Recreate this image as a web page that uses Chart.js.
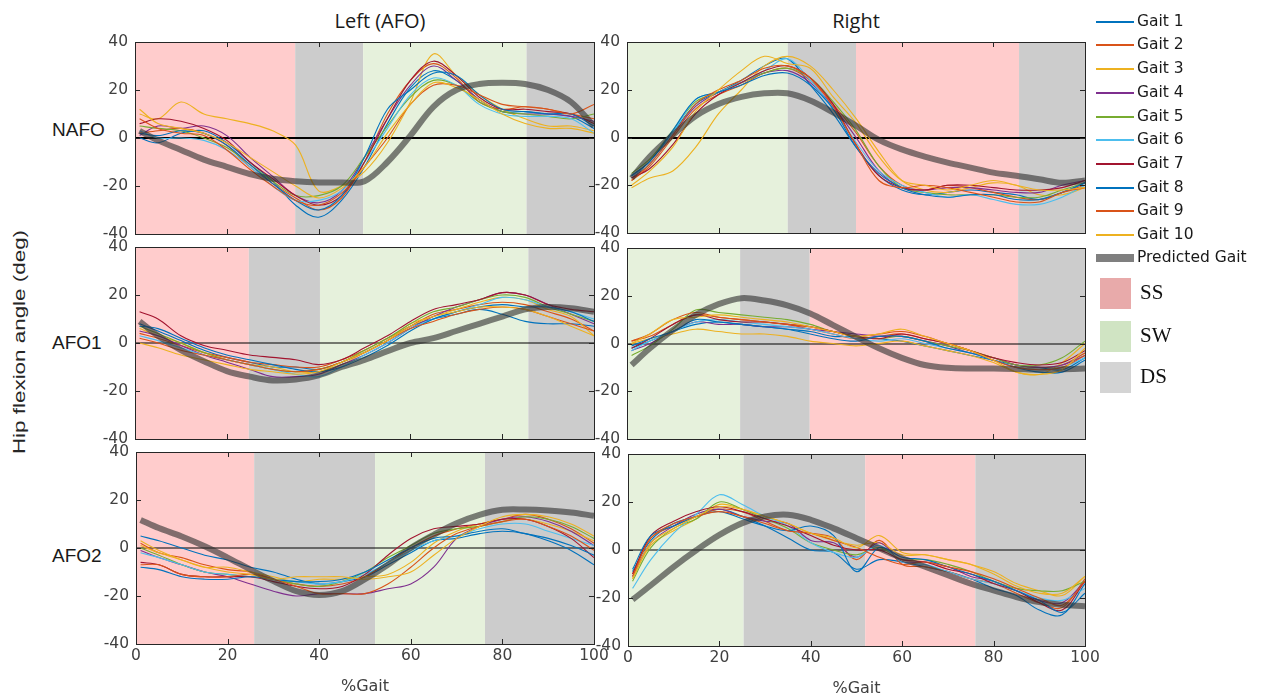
<!DOCTYPE html>
<html>
<head>
<meta charset="utf-8">
<script src="https://cdn.jsdelivr.net/npm/chart.js@4.4.1/dist/chart.umd.min.js"></script>
<style>
  body { margin: 0; background: #fff; }
  #fig { position: relative; width: 1263px; height: 698px; overflow: hidden; }
  #fig canvas { position: absolute; }
  .lbl { position: absolute; white-space: nowrap; color: #1a1a1a; transform: translate(-50%, -50%); }
  .col { font-family: 'Open Sans', sans-serif; font-size: 20px; top: 20px; }
  .row { font-family: 'Liberation Sans', Arial, sans-serif; font-size: 19px; transform: translate(0, -50%); left: 52px; }
  #ytitle { font-family: 'Liberation Sans', Arial, sans-serif; font-size: 16px; left: 20px; top: 342px;
            transform: translate(-50%, -50%) rotate(-90deg) scaleX(1.4); color: #262626; }
  .leg { position: absolute; font-family: 'DejaVu Sans', sans-serif; font-size: 15.5px; color: #1a1a1a; white-space: nowrap; }
  .sw { position: absolute; }
  .ph { position: absolute; font-family: 'Liberation Serif', 'Times New Roman', serif; font-size: 21px; color: #111; }
</style>
</head>
<body>
<div id="fig">
  <div class="lbl col" style="left:380px">Left (AFO)</div>
  <div class="lbl col" style="left:856px">Right</div>
  <div class="lbl row" style="top:130px">NAFO</div>
  <div class="lbl row" style="top:343px">AFO1</div>
  <div class="lbl row" style="top:556px">AFO2</div>
  <div class="lbl" id="ytitle">Hip flexion angle (deg)</div>
</div>
<script>
// % of gait cycle where each trial was sampled
const GAIT_PCT = [1, 5, 10, 15, 20, 25, 30, 35, 40, 45, 50, 55, 60, 65, 70, 75, 80, 85, 90, 95, 100];
const GAIT_NAMES = ['Gait 1', 'Gait 2', 'Gait 3', 'Gait 4', 'Gait 5', 'Gait 6', 'Gait 7', 'Gait 8', 'Gait 9', 'Gait 10'];
const GAIT_COLORS = ['#0072bd', '#d95319', '#edb120', '#7e2f8e', '#77ac30', '#4dbeee', '#a2142f', '#0072bd', '#d95319', '#edb120'];
const Y_TICKS = [-40, -20, 0, 20, 40];
const X_TICKS = [0, 20, 40, 60, 80, 100];

// gait phases: SS single stance, SW swing, DS double support  [phase, from %, to %]
const phasesLeftNafo  = [['SS', 0, 34.9], ['DS', 34.9, 49.7], ['SW', 49.7, 85.3], ['DS', 85.3, 100]];
const phasesRightNafo = [['SW', 0, 35.1], ['DS', 35.1, 50.0], ['SS', 50.0, 85.6], ['DS', 85.6, 100]];
const phasesLeftAfo1  = [['SS', 0, 24.8], ['DS', 24.8, 40.3], ['SW', 40.3, 85.7], ['DS', 85.7, 100]];
const phasesRightAfo1 = [['SW', 0, 24.7], ['DS', 24.7, 39.9], ['SS', 39.9, 85.4], ['DS', 85.4, 100]];
const phasesLeftAfo2  = [['SS', 0, 25.8], ['DS', 25.8, 52.2], ['SW', 52.2, 76.2], ['DS', 76.2, 100]];
const phasesRightAfo2 = [['SW', 0, 25.3], ['DS', 25.3, 51.9], ['SS', 51.9, 76.0], ['DS', 76.0, 100]];

// predicted hip flexion (deg)
const predLeftNafo  = [3, -1, -5, -9, -12, -15, -17, -18, -18.5, -18.5, -18, -10, 1, 13, 20, 22.5, 23, 22.5, 20, 15, 5];
const predRightNafo = [-17, -8, 1, 9, 14, 17, 18.5, 18.5, 15.5, 10.5, 5, -1, -5, -8, -10.5, -12.6, -14.7, -16, -17.5, -19, -18];
const predLeftAfo1  = [9, 3, -3, -7.6, -11.7, -14, -15.6, -15.2, -13.5, -10, -7, -3.4, 0, 2, 5, 8, 11, 14, 15, 14.5, 13];
const predRightAfo1 = [-9, -2, 5.6, 12, 16.5, 19, 18, 16, 12.6, 7.7, 2.8, -2, -6, -9, -10.2, -10.5, -10.5, -10.7, -11, -10.8, -10.5];
const predLeftAfo2  = [11.7, 8.3, 4.8, 0.7, -4, -9, -13.8, -18, -19.6, -18, -13, -7, 0, 5.5, 10.3, 13.8, 15.9, 16, 15.6, 14.8, 13.4];
const predRightAfo2 = [-20.7, -14.7, -7, 0, 6.3, 11.2, 14, 14.7, 12.6, 9, 4.9, 0.7, -3.5, -7, -10.5, -14, -16.8, -19.6, -21.7, -22.8, -23.4];

// measured trials, Gait 1 .. Gait 10
const leftNafo = [
  [0, -2, 2, 3, -2, -10, -18, -28, -33, -26, -12, 6, 21, 28, 24, 16, 11, 11, 10, 9, 4],
  [2, 3, 4, 2, -3, -12, -19, -25, -30, -25, -10, 10, 24, 31, 25, 15, 12, 13, 12, 10, 8],
  [10, 8, 15, 10, 8, 6, 3, -3, -22, -20, -14, -2, 15, 35, 26, 18, 12, 8, 5, 5, 3],
  [1, 5, 4, 5, 1, -8, -16, -24, -27, -22, -8, 8, 22, 30, 24, 16, 11, 10, 10, 9, 7],
  [5, 4, 3, 0, -4, -11, -18, -24, -24, -20, -8, 5, 17, 24, 22, 15, 11, 10, 9, 8, 10],
  [3, 0, 0, -1, -5, -12, -20, -26, -26, -22, -10, 4, 18, 25, 22, 14, 10, 9, 9, 8, 2],
  [6, 8, 7, 4, -1, -10, -17, -24, -28, -24, -10, 8, 24, 32, 26, 17, 12, 12, 11, 10, 6],
  [2, 1, 3, 2, -3, -11, -19, -26, -30, -24, -8, 12, 20, 27, 26, 18, 12, 11, 10, 10, 5],
  [8, 4, 2, 1, -5, -13, -20, -26, -28, -23, -12, 0, 14, 22, 22, 18, 14, 13, 12, 10, 14],
  [12, 6, 4, 2, -2, -8, -14, -20, -25, -21, -12, 2, 14, 23, 21, 16, 10, 6, 4, 4, 2]
];
const rightNafo = [
  [-16, -10, 2, 14, 19, 24, 30, 33, 22, 10, -4, -16, -22, -24, -23, -22, -23, -24, -26, -23, -19],
  [-18, -12, 0, 12, 18, 22, 27, 29, 24, 14, 2, -12, -20, -22, -20, -21, -23, -25, -26, -23, -20],
  [-21, -17, -14, -4, 10, 20, 30, 34, 30, 20, 8, -6, -18, -22, -23, -21, -19, -20, -24, -24, -21],
  [-17, -11, 1, 13, 19, 23, 27, 28, 23, 13, 0, -14, -21, -22, -21, -21, -22, -23, -23, -20, -18],
  [-15, -9, 3, 15, 19, 23, 27, 29, 25, 15, 3, -12, -21, -23, -24, -24, -24, -25, -25, -22, -19],
  [-16, -11, 2, 16, 19, 23, 28, 33, 24, 12, -2, -14, -20, -23, -25, -24, -26, -28, -28, -25, -20],
  [-17, -13, -3, 10, 18, 23, 28, 30, 25, 14, -3, -16, -21, -22, -20, -20, -21, -22, -22, -21, -18],
  [-16, -10, 3, 16, 19, 22, 26, 27, 22, 12, -4, -15, -21, -24, -25, -24, -24, -26, -26, -23, -19],
  [-18, -11, 1, 14, 20, 24, 29, 30, 25, 13, -3, -18, -21, -20, -21, -23, -25, -27, -27, -23, -21],
  [-20, -14, -4, 11, 20, 28, 34, 31, 29, 17, 6, -8, -18, -20, -22, -20, -18, -20, -22, -22, -21]
];
const leftAfo1 = [
  [8, 5, 1, -3, -6, -8, -10, -10, -11, -8, -4, 1, 7, 10, 12, 14, 12, 9, 8, 8, 7],
  [4, 2, -1, -4, -6, -8, -9, -10, -10, -7, -3, 2, 7, 12, 14, 16, 17, 16, 13, 10, 5],
  [6, 3, 0, -4, -7, -9, -10, -12, -12, -9, -4, 1, 8, 11, 14, 17, 19, 18, 14, 11, 3],
  [5, 3, -1, -5, -8, -11, -14, -14, -13, -9, -5, 0, 6, 11, 15, 18, 21, 20, 16, 12, 8],
  [7, 4, 0, -4, -7, -9, -11, -12, -11, -8, -3, 2, 8, 13, 15, 18, 20, 19, 15, 12, 9],
  [3, 1, -2, -5, -7, -9, -11, -13, -14, -10, -5, 0, 6, 10, 13, 16, 19, 18, 15, 13, 10],
  [13, 10, 3, -1, -3, -5, -6, -7, -9, -7, -2, 3, 9, 14, 16, 18, 21, 20, 16, 14, 13],
  [7, 6, 2, -2, -5, -7, -9, -11, -12, -10, -6, -1, 5, 10, 13, 15, 16, 15, 15, 13, 9],
  [2, 0, -3, -5, -7, -9, -11, -12, -11, -8, -4, 1, 6, 9, 12, 14, 15, 14, 11, 8, 5],
  [0, -2, -5, -7, -9, -11, -12, -13, -12, -8, -4, 1, 7, 11, 13, 15, 15, 14, 11, 7, 3]
];
const rightAfo1 = [
  [-2, 1, 5, 8, 9, 8, 7, 6, 5, 3, 3, 2, 1, -1, -3, -5, -7, -9, -10, -11, -6],
  [1, 3, 8, 12, 11, 10, 9, 8, 6, 4, 2, 3, 4, 2, 0, -3, -6, -9, -10, -9, -4],
  [0, 2, 4, 6, 5, 4, 4, 3, 1, 0, -1, 0, 1, -1, -3, -5, -8, -12, -13, -8, 0],
  [-3, 0, 5, 9, 8, 8, 7, 7, 6, 5, 4, 3, 3, 1, -1, -4, -6, -9, -10, -9, -5],
  [-5, -1, 6, 14, 13, 12, 11, 10, 8, 5, 3, 2, 3, 1, -1, -3, -6, -9, -9, -6, 1],
  [-3, 1, 5, 9, 10, 9, 8, 7, 6, 4, 2, 1, 2, 0, -2, -4, -7, -10, -11, -10, -6],
  [-2, 2, 8, 12, 10, 9, 9, 8, 7, 5, 3, 2, 4, 2, 0, -3, -6, -8, -9, -8, -3],
  [-1, 2, 5, 10, 9, 8, 7, 6, 4, 2, 1, 3, 3, 1, -2, -4, -7, -10, -12, -12, -7],
  [1, 4, 10, 13, 11, 10, 9, 8, 7, 5, 3, 4, 5, 3, 0, -3, -7, -10, -11, -10, -5],
  [0, 4, 10, 11, 12, 11, 10, 9, 7, 5, 3, 4, 6, 3, 0, -3, -7, -12, -13, -11, -2]
];
const leftAfo2 = [
  [5, 3, 0, -3, -5, -8, -10, -13, -15, -14, -12, -7, -2, 3, 4, 6, 7, 6, 3, -1, -7],
  [2, -2, -4, -7, -9, -10, -13, -15, -16, -15, -12, -6, 0, 5, 8, 10, 12, 14, 12, 8, 2],
  [1, -2, -5, -8, -8, -10, -12, -14, -13, -13, -12, -11, -6, 2, 7, 10, 12, 12, 10, 7, 3],
  [-1, -4, -7, -10, -12, -15, -18, -20, -19, -19, -19, -17, -15, -8, 4, 9, 12, 13, 11, 7, 1],
  [0, -3, -7, -10, -11, -12, -13, -15, -16, -14, -10, -4, 1, 6, 8, 9, 11, 13, 12, 9, 4],
  [-2, -4, -7, -10, -11, -12, -13, -14, -15, -14, -11, -6, -1, 3, 5, 8, 10, 10, 7, 4, 1],
  [-6, -7, -11, -12, -12, -12, -14, -16, -17, -16, -11, -3, 4, 8, 9, 10, 12, 12, 9, 4, -4],
  [-8, -9, -12, -13, -13, -12, -13, -14, -14, -13, -10, -5, 0, 4, 5, 7, 8, 6, 4, 1, -3],
  [-7, -7, -11, -12, -12, -11, -13, -16, -19, -19, -19, -15, -8, 0, 6, 9, 11, 12, 9, 5, -1],
  [3, -1, -5, -8, -10, -11, -13, -12, -12, -12, -13, -12, -10, -3, 4, 9, 13, 14, 13, 10, 5]
];
const rightAfo2 = [
  [-9, 4, 11, 14, 17, 14, 10, 5, 0, -1, -8, -4, -5, -7, -9, -12, -16, -19, -25, -27, -14],
  [-10, 5, 10, 14, 17, 16, 12, 8, 7, 5, -4, 4, -6, -7, -9, -12, -14, -18, -22, -24, -12],
  [-12, 2, 8, 13, 19, 17, 14, 11, 7, 4, 2, 3, -2, -2, -4, -6, -9, -14, -17, -19, -11],
  [-11, 3, 10, 15, 17, 14, 12, 11, 4, 3, -3, 3, -5, -5, -7, -11, -13, -17, -21, -22, -13],
  [-13, 1, 9, 13, 20, 17, 13, 9, 3, 0, -2, 1, -4, -4, -6, -9, -13, -16, -17, -17, -13],
  [-16, -4, 7, 15, 23, 19, 14, 10, 3, -1, -3, 2, -5, -6, -9, -12, -14, -17, -20, -21, -16],
  [-10, 6, 12, 16, 18, 16, 13, 10, 6, 2, 0, 0, -4, -5, -8, -10, -14, -17, -22, -25, -13],
  [-8, 6, 10, 14, 16, 13, 10, 8, 10, 6, -9, 1, -3, -4, -7, -10, -13, -17, -21, -26, -18],
  [-11, 5, 11, 14, 16, 14, 11, 8, 7, 4, 1, -3, -6, -5, -7, -9, -12, -16, -20, -23, -13],
  [-12, 3, 9, 14, 18, 17, 14, 11, 7, 5, 1, 6, -1, -2, -4, -6, -10, -15, -18, -18, -11]
];

const PHASE_FILL = { SS: '#ffcccc', SW: '#e6f1dc', DS: '#cccccc' };
const PHASE_KEY  = { SS: '#e8aaaa', SW: '#d0e4c3', DS: '#d4d4d4' };
const AXIS_INK = '#262626';

const fig = document.getElementById('fig');

// shaded gait phases and the zero line under the traces, box and inward ticks on top
const phasePlugin = {
  id: 'phases',
  beforeDatasetsDraw(chart, args, opts) {
    const { ctx, chartArea: a, scales: { x, y } } = chart;
    ctx.save();
    for (const [kind, from, to] of opts.bands) {
      const x0 = x.getPixelForValue(from), x1 = x.getPixelForValue(to);
      ctx.fillStyle = PHASE_FILL[kind];
      ctx.fillRect(x0, a.top, x1 - x0, a.height);
    }
    const y0 = Math.round(y.getPixelForValue(0));
    ctx.strokeStyle = '#000';
    ctx.lineWidth = opts.zero;
    ctx.beginPath();
    ctx.moveTo(a.left, y0);
    ctx.lineTo(a.right, y0);
    ctx.stroke();
    ctx.restore();
  },
  afterDatasetsDraw(chart) {
    const { ctx, chartArea: a, scales: { x, y } } = chart;
    ctx.save();
    ctx.strokeStyle = AXIS_INK;
    ctx.lineWidth = 1;
    ctx.beginPath();
    for (const v of X_TICKS) {
      const px = Math.round(x.getPixelForValue(v)) + 0.5;
      ctx.moveTo(px, a.top); ctx.lineTo(px, a.top + 5);
      ctx.moveTo(px, a.bottom); ctx.lineTo(px, a.bottom - 5);
    }
    for (const v of Y_TICKS) {
      const py = Math.round(y.getPixelForValue(v)) + 0.5;
      ctx.moveTo(a.left, py); ctx.lineTo(a.left + 5, py);
      ctx.moveTo(a.right, py); ctx.lineTo(a.right - 5, py);
    }
    ctx.stroke();
    ctx.strokeRect(Math.round(a.left) + 0.5, Math.round(a.top) + 0.5,
                   Math.round(a.width), Math.round(a.height));
    ctx.restore();
  }
};

const tickFont = { family: 'DejaVu Sans', size: 15.5 };

function drawPanel(rect, gaits, pred, bands, opt) {
  const [L, T, W, H] = rect;
  const padL = 56, padT = 12, padR = 24;
  const padB = opt.bottom ? 58 : 12;
  const cv = document.createElement('canvas');
  cv.width = W + padL + padR;
  cv.height = H + padT + padB;
  cv.style.left = (L - padL) + 'px';
  cv.style.top = (T - padT) + 'px';
  fig.appendChild(cv);

  const datasets = gaits.map((vals, i) => ({
    label: GAIT_NAMES[i],
    data: GAIT_PCT.map((x, k) => ({ x, y: vals[k] })),
    borderColor: GAIT_COLORS[i],
    borderWidth: 1.1,
    order: 20 - i
  }));
  datasets.push({
    label: 'Predicted Gait',
    data: GAIT_PCT.map((x, k) => ({ x, y: pred[k] })),
    borderColor: 'rgba(45, 45, 45, 0.6)',
    borderWidth: 6,
    order: 0
  });

  new Chart(cv, {
    type: 'line',
    data: { datasets },
    options: {
      responsive: false,
      animation: false,
      devicePixelRatio: 1,
      layout: { padding: { left: 0, top: padT, right: padR, bottom: opt.bottom ? 0 : padB } },
      elements: { point: { radius: 0 }, line: { tension: 0.35, fill: false } },
      plugins: {
        legend: { display: false },
        tooltip: { enabled: false },
        phases: { bands, zero: opt.zero }
      },
      scales: {
        x: {
          type: 'linear', min: 0, max: 100,
          grid: { display: false, drawTicks: false },
          border: { display: false },
          ticks: { display: opt.bottom, stepSize: 20, padding: 3, maxRotation: 0, color: '#404040', font: tickFont },
          title: { display: opt.bottom, text: '%Gait', color: '#404040',
                   font: { family: 'DejaVu Sans', size: 16 }, padding: { top: 0, bottom: 6 } },
          afterFit(s) { s.height = opt.bottom ? padB : 0; s.paddingLeft = 0; s.paddingRight = 0; }
        },
        y: {
          type: 'linear', min: -40, max: 40,
          grid: { display: false, drawTicks: false },
          border: { display: false },
          ticks: { stepSize: 20, padding: 7, color: '#404040', font: tickFont },
          afterFit(s) { s.width = padL; s.paddingTop = 0; s.paddingBottom = 0; }
        }
      }
    },
    plugins: [phasePlugin]
  });
}

drawPanel([135, 42, 459, 192], leftNafo, predLeftNafo, phasesLeftNafo, { zero: 2, bottom: false });
drawPanel([627, 42, 458, 191], rightNafo, predRightNafo, phasesRightNafo, { zero: 2, bottom: false });
drawPanel([135, 247, 459, 192], leftAfo1, predLeftAfo1, phasesLeftAfo1, { zero: 1.2, bottom: false });
drawPanel([627, 248, 458, 191], rightAfo1, predRightAfo1, phasesRightAfo1, { zero: 1.2, bottom: false });
drawPanel([136, 452, 458, 192], leftAfo2, predLeftAfo2, phasesLeftAfo2, { zero: 1.2, bottom: true });
drawPanel([628, 454, 457, 192], rightAfo2, predRightAfo2, phasesRightAfo2, { zero: 1.2, bottom: true });

// legend: one entry per trial, the prediction, then the phase keys
function legendRow(y, swatch, text) {
  const s = document.createElement('div');
  s.className = 'sw';
  Object.assign(s.style, swatch);
  fig.appendChild(s);
  const t = document.createElement('div');
  t.className = 'leg';
  t.textContent = text;
  t.style.left = '1137px';
  t.style.top = (y - 10) + 'px';
  fig.appendChild(t);
}
GAIT_NAMES.forEach((name, i) => {
  const y = 21.7 + 23.7 * i;
  legendRow(y, { left: '1096px', top: (Math.round(y) - 1) + 'px', width: '38px', height: '1.5px', background: GAIT_COLORS[i] }, name);
});
legendRow(258, { left: '1096px', top: '254px', width: '38px', height: '8px', background: '#7f7f7f' }, 'Predicted Gait');

[['SS', 278], ['SW', 321], ['DS', 362]].forEach(([k, top]) => {
  const b = document.createElement('div');
  b.className = 'sw';
  Object.assign(b.style, { left: '1100px', top: top + 'px', width: '31px', height: '31px', background: PHASE_KEY[k] });
  fig.appendChild(b);
  const t = document.createElement('div');
  t.className = 'ph';
  t.textContent = k;
  t.style.left = '1140px';
  t.style.top = (top + 2) + 'px';
  fig.appendChild(t);
});
</script>
</body>
</html>
